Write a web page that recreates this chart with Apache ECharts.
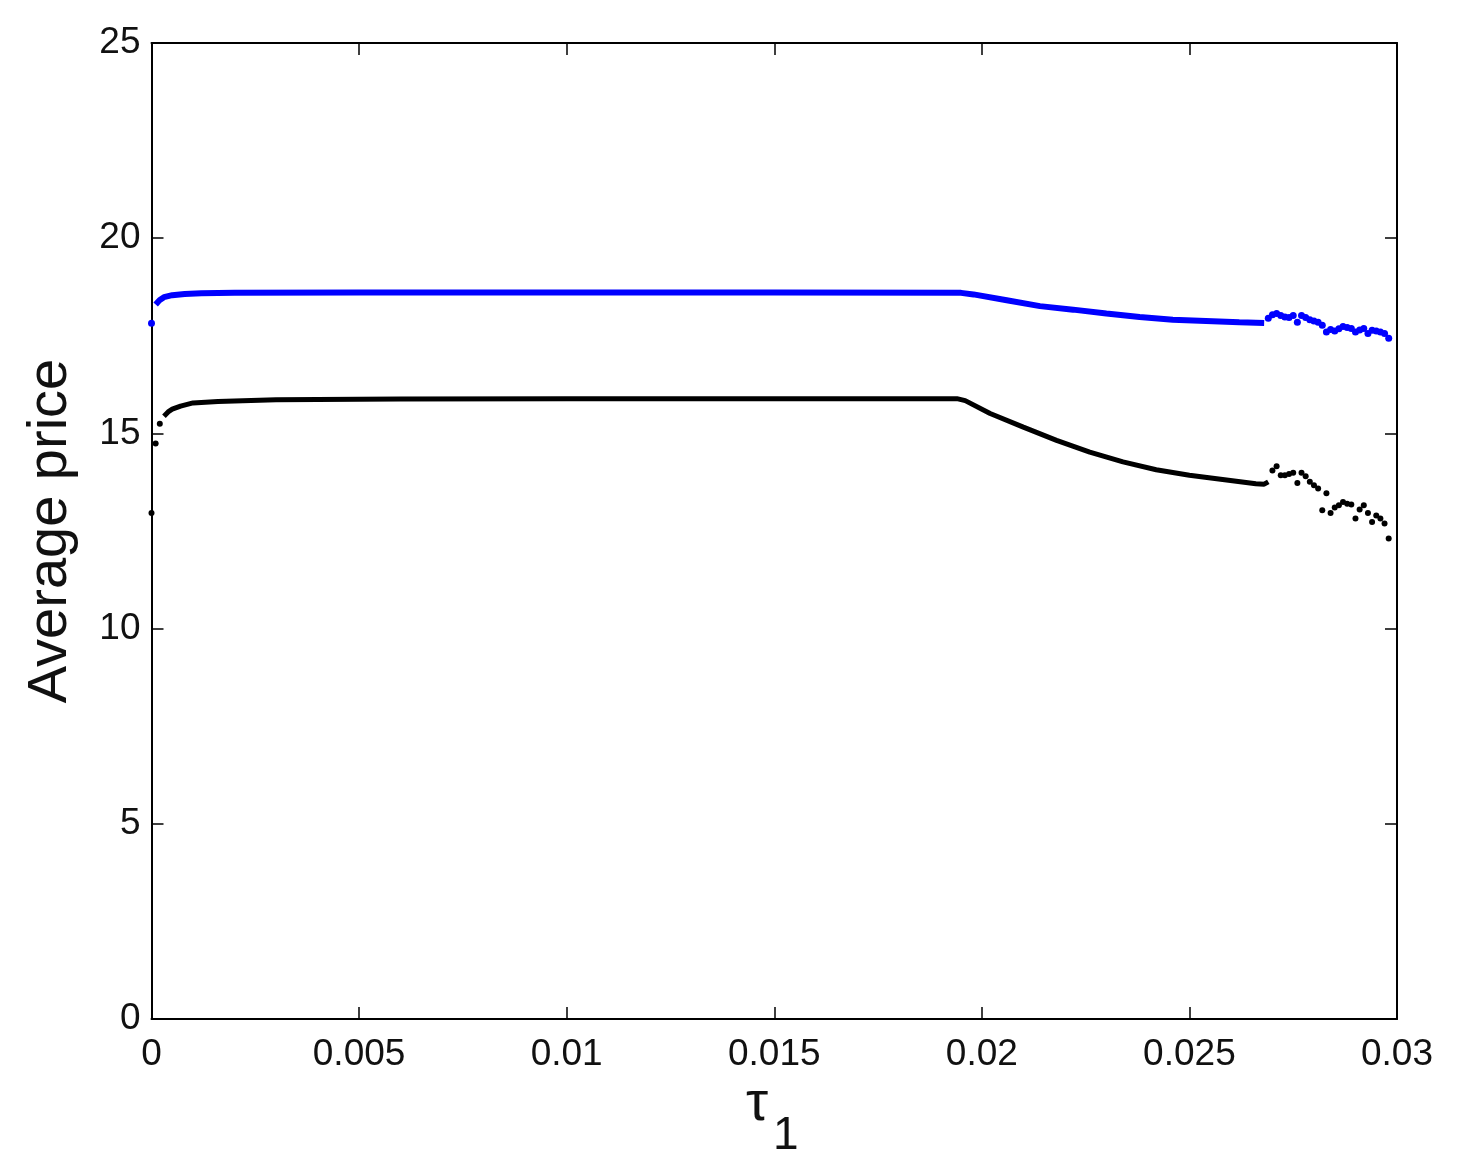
<!DOCTYPE html>
<html>
<head>
<meta charset="utf-8">
<script src="https://cdn.jsdelivr.net/npm/echarts@6/dist/echarts.min.js"></script>
<style>
html,body{margin:0;padding:0;background:#fff;}
#chart{width:1467px;height:1170px;}
</style>
</head>
<body>
<div id="chart"></div>
<script>
// x ticks
const xTicks = [0, 0.005, 0.01, 0.015, 0.02, 0.025, 0.03];
const yTicks = [0, 5, 10, 15, 20, 25];

// Blue series: continuous part
const blueLineX = [0.0001,0.0002,0.0003,0.0005,0.0008,0.0012,0.002,0.005,0.01,0.015,0.0195,0.0198,0.0206,0.0214,0.0222,0.0230,0.0238,0.0246,0.0254,0.0262,0.0268];
const blueLineY = [18.30,18.42,18.49,18.54,18.57,18.59,18.60,18.61,18.61,18.61,18.60,18.56,18.41,18.26,18.17,18.07,17.98,17.91,17.88,17.85,17.83];
// Blue series: isolated dots
const blueDotX = [0,0.0269,0.0270,0.0271,0.0272,0.0273,0.0274,0.0275,0.0276,0.0277,0.0278,0.0279,0.0280,0.0281,0.0282,0.0283,0.0284,0.0285,0.0286,0.0287,0.0288,0.0289,0.0290,0.0291,0.0292,0.0293,0.0294,0.0295,0.0296,0.0297,0.0298];
const blueDotY = [17.82,17.95,18.04,18.07,18.02,17.98,17.97,18.02,17.85,18.02,17.97,17.91,17.88,17.85,17.77,17.60,17.66,17.62,17.68,17.74,17.71,17.69,17.60,17.65,17.69,17.56,17.64,17.62,17.60,17.56,17.44];

// Black series: continuous part
const blackLineX = [0.0003,0.0004,0.0005,0.0007,0.001,0.0016,0.003,0.006,0.01,0.015,0.0194,0.0196,0.0202,0.0210,0.0218,0.0226,0.0234,0.0242,0.0250,0.0258,0.0266,0.0268,0.0269];
const blackLineY = [15.44,15.55,15.62,15.70,15.78,15.82,15.86,15.88,15.89,15.89,15.89,15.84,15.51,15.16,14.82,14.52,14.27,14.07,13.93,13.82,13.71,13.70,13.76];
// Black series: isolated dots
const blackDotX = [0,0.0001,0.0002,0.0270,0.0271,0.0272,0.0273,0.0274,0.0275,0.0276,0.0277,0.0278,0.0279,0.0280,0.0281,0.0282,0.0283,0.0284,0.0285,0.0286,0.0287,0.0288,0.0289,0.0290,0.0291,0.0292,0.0293,0.0294,0.0295,0.0296,0.0297,0.0298];
const blackDotY = [12.96,14.74,15.25,14.05,14.16,13.93,13.93,13.96,13.99,13.73,13.99,13.90,13.76,13.67,13.59,13.03,13.47,12.96,13.10,13.16,13.24,13.20,13.18,12.82,13.05,13.16,12.96,12.73,12.90,12.82,12.69,12.31];

const xName = 'τ';
const xNameSub = '1';
const yName = 'Average price';

const zip = (xs, ys) => xs.map((x, i) => [x, ys[i]]);
const FONT = "'Liberation Sans', Arial, Helvetica, sans-serif";
const fmtX = v => String(parseFloat(Number(v).toFixed(4)));

const axisLine = { show: true, onZero: false, lineStyle: { color: '#000', width: 2 } };
const axisTick = { show: true, inside: true, length: 12, lineStyle: { color: '#000', width: 1.5 } };

const chart = echarts.init(document.getElementById('chart'), null, { renderer: 'canvas' });
chart.setOption({
  animation: false,
  backgroundColor: '#fff',
  grid: { left: 151.5, right: 70, top: 43, bottom: 151, containLabel: false },
  xAxis: [{
    type: 'value', position: 'bottom', min: xTicks[0], max: xTicks[xTicks.length - 1], interval: 0.005,
    axisLine, axisTick, splitLine: { show: false },
    axisLabel: { formatter: fmtX, fontFamily: FONT, fontSize: 37, color: '#111', margin: 17 }
  }, {
    type: 'value', position: 'top', min: 0, max: 0.03, interval: 0.005,
    axisLine, axisTick, axisLabel: { show: false }, splitLine: { show: false }
  }],
  yAxis: [{
    type: 'value', position: 'left', min: yTicks[0], max: yTicks[yTicks.length - 1], interval: 5,
    axisLine, axisTick, splitLine: { show: false },
    axisLabel: { fontFamily: FONT, fontSize: 37, color: '#111', margin: 11 },
    name: yName, nameLocation: 'middle', nameGap: 73, nameRotate: 90,
    nameTextStyle: { fontFamily: FONT, fontSize: 56, color: '#111' }
  }, {
    type: 'value', position: 'right', min: 0, max: 25, interval: 5,
    axisLine, axisTick, axisLabel: { show: false }, splitLine: { show: false }
  }],
  graphic: [
    { type: 'text', left: 746, top: 1077, style: { text: xName, font: "56px " + FONT, fill: '#111' } },
    { type: 'text', left: 773, top: 1113, style: { text: xNameSub, font: "46px " + FONT, fill: '#111' } }
  ],
  series: [
    { type: 'line', data: zip(blueLineX, blueLineY), showSymbol: false, symbol: 'none',
      lineStyle: { color: '#0000ff', width: 6 }, xAxisIndex: 0, yAxisIndex: 0 },
    { type: 'scatter', data: zip(blueDotX, blueDotY), symbolSize: 7,
      itemStyle: { color: '#0000ff', opacity: 1 }, xAxisIndex: 0, yAxisIndex: 0 },
    { type: 'line', data: zip(blackLineX, blackLineY), showSymbol: false, symbol: 'none',
      lineStyle: { color: '#000', width: 5 }, xAxisIndex: 0, yAxisIndex: 0 },
    { type: 'scatter', data: zip(blackDotX, blackDotY), symbolSize: 6,
      itemStyle: { color: '#000', opacity: 1 }, xAxisIndex: 0, yAxisIndex: 0 }
  ]
});
</script>
</body>
</html>
